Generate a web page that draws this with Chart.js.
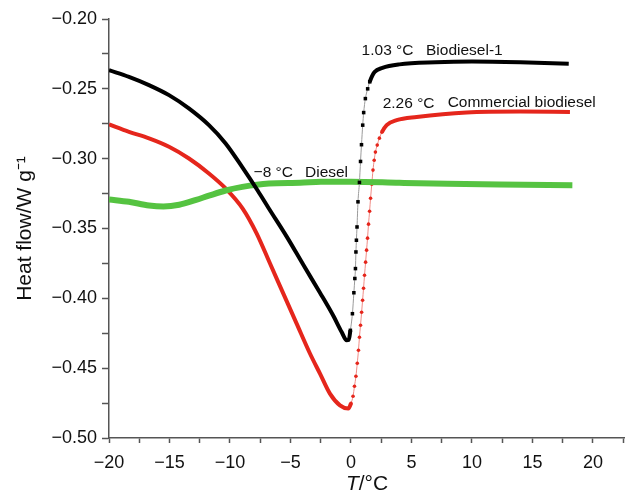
<!DOCTYPE html>
<html>
<head>
<meta charset="utf-8">
<script src="https://cdn.jsdelivr.net/npm/chart.js@4.4.1/dist/chart.umd.min.js"></script>
<style>
  html, body { margin: 0; padding: 0; background: #fff; }
  #wrap { width: 625px; height: 494px; }
</style>
</head>
<body>
<div id="wrap"><canvas id="dscChart"></canvas></div>
<script>
// DSC cooling curves
const blackT  = [-20, -18.35, -16.7, -15.04, -13.4, -11.74, -10.36, -9.0, -7.7, -6.8, -5.3, -3.94, -2.56, -1.46, -0.77, -0.36, -0.18,
                 -0.05, 0.12, 0.24, 0.32, 0.37, 0.41, 0.45, 0.5, 0.58, 0.7, 0.79, 0.87, 0.97, 1.05, 1.19, 1.38, 1.55,
                 1.95, 2.6, 4, 7, 10, 14, 18];
const blackHF = [-0.2366, -0.2414, -0.2473, -0.2545, -0.2640, -0.2760, -0.2891, -0.3059, -0.3230, -0.3355, -0.3560, -0.3760, -0.3960, -0.4125, -0.4241, -0.4300, -0.4298,
                 -0.4229, -0.4110, -0.3960, -0.3858, -0.3787, -0.3668, -0.3584, -0.3489, -0.3309, -0.317, -0.302, -0.290, -0.276, -0.267, -0.257, -0.250, -0.245,
                 -0.238, -0.235, -0.2325, -0.231, -0.2305, -0.231, -0.232];

const redT  = [-20, -18.35, -16.69, -15.04, -13.39, -11.74, -10.36, -8.95, -7.79, -6.69, -5.59, -4.49, -3.39, -2.56, -1.74, -0.91, -0.22,
               0.0, 0.17, 0.29, 0.41, 0.52, 0.62, 0.70, 0.79, 0.88, 0.96, 1.04, 1.12, 1.21, 1.29, 1.37, 1.45, 1.54, 1.62,
               1.72, 1.82, 1.92, 2.02, 2.17, 2.35, 2.56, 2.95, 3.78, 5.43, 9.56, 14, 18.1];
const redHF = [-0.2755, -0.2808, -0.2855, -0.2915, -0.2999, -0.3106, -0.3213, -0.3357, -0.3536, -0.3751, -0.3966, -0.4181, -0.4395, -0.4539, -0.4682, -0.4766, -0.4789,
               -0.4752, -0.4701, -0.4630, -0.4558, -0.4465, -0.4372, -0.4279, -0.4193, -0.4100, -0.4014, -0.3928, -0.3835, -0.3741, -0.3655, -0.3569, -0.3469, -0.3376, -0.3283,
               -0.3183, -0.3082, -0.3011, -0.2953, -0.2903, -0.2853, -0.2810, -0.2760, -0.2724, -0.2701, -0.2669, -0.2663, -0.2665];

const greenT  = [-20, -18.35, -16.69, -15.5, -14.2, -12.8, -11.74, -10.36, -8.98, -6.78, -4.2, -2.5, 0, 4, 8, 12.3, 18.3];
const greenHF = [-0.3292, -0.3309, -0.3335, -0.3342, -0.3330, -0.3295, -0.3265, -0.3228, -0.3202, -0.3178, -0.3173, -0.3166, -0.3165, -0.3173, -0.318, -0.3185, -0.319];

const xTicks = [-20, -15, -10, -5, 0, 5, 10, 15, 20];
const yTicks = [-0.50, -0.45, -0.40, -0.35, -0.30, -0.25, -0.20];

const notes = [
  { text: '1.03 \u00b0C', x: 0.88, y: -0.2226 },
  { text: 'Biodiesel-1', x: 6.2, y: -0.2226 },
  { text: '2.26 \u00b0C', x: 2.62, y: -0.2605 },
  { text: 'Commercial biodiesel', x: 7.99, y: -0.2597 },
  { text: '\u22128 \u00b0C', x: -8.05, y: -0.310 },
  { text: 'Diesel', x: -3.8, y: -0.310 }
];

const FONT = "'Liberation Sans', Arial, Helvetica, sans-serif";
const pts = (xs, ys) => xs.map((x, i) => ({ x: x, y: ys[i] }));
const minus = s => s.replace('-', '\u2212');

// the steep melting rise is drawn as separate markers on a thin line
function riseDataset(label, xs, ys, lo, hi, color, thinColor, style, r) {
  const inRise = x => x >= lo && x <= hi;
  const thin = ctx => inRise(ctx.p0.parsed.x) && inRise(ctx.p1.parsed.x);
  return {
    label: label,
    data: pts(xs, ys),
    borderColor: color,
    borderWidth: 4,
    cubicInterpolationMode: 'monotone',
    pointStyle: style,
    pointRadius: ctx => inRise(ctx.raw.x) ? r : 0,
    pointHoverRadius: 0,
    pointBackgroundColor: color,
    pointBorderWidth: 0,
    segment: {
      borderWidth: ctx => thin(ctx) ? 1 : 4,
      borderColor: ctx => thin(ctx) ? thinColor : color
    }
  };
}

const notesPlugin = {
  id: 'notes',
  afterDatasetsDraw(chart) {
    const c = chart.ctx, xs = chart.scales.x, ys = chart.scales.y;
    c.save();
    c.fillStyle = '#111';
    c.font = '15.5px ' + FONT;
    c.textBaseline = 'middle';
    c.textAlign = 'left';
    notes.forEach(n => c.fillText(n.text, xs.getPixelForValue(n.x), ys.getPixelForValue(n.y)));
    // x axis title with italic T
    const cx = (chart.chartArea.left + chart.chartArea.right) / 2;
    c.font = 'italic 21px ' + FONT;
    const w1 = c.measureText('T').width;
    c.font = '21px ' + FONT;
    const w2 = c.measureText('/\u00b0C').width;
    const x0 = cx - (w1 + w2) / 2;
    c.font = 'italic 21px ' + FONT;
    c.fillText('T', x0, 484);
    c.font = '21px ' + FONT;
    c.fillText('/\u00b0C', x0 + w1, 484);
    c.restore();
  }
};

const ctx = document.getElementById('dscChart').getContext('2d');

const dscChart = new Chart(ctx, {
  type: 'line',
  data: {
    datasets: [
      riseDataset('Biodiesel-1', blackT, blackHF, -0.1, 1.6, '#000000', '#9a9a9a', 'rect', 2.5),
      {
        label: 'Diesel',
        data: pts(greenT, greenHF),
        borderColor: '#55c341',
        borderWidth: 6,
        cubicInterpolationMode: 'monotone',
        pointRadius: 0,
        pointHoverRadius: 0
      },
      riseDataset('Commercial biodiesel', redT, redHF, -0.1, 2.6, '#e5261c', '#f08a84', 'circle', 1.8)
    ]
  },
  options: {
    responsive: true,
    maintainAspectRatio: false,
    animation: false,
    layout: { padding: { top: 19, right: 0, left: 0, bottom: 0 } },
    plugins: {
      legend: { display: false },
      tooltip: { enabled: false }
    },
    scales: {
      x: {
        type: 'linear',
        min: -20,
        max: 22.65,
        afterFit: s => { s.height = 56; s.paddingLeft = 0; s.paddingRight = 0; },
        border: { display: true, color: '#555', width: 1.5 },
        grid: { drawOnChartArea: false, drawTicks: true, tickLength: 5, tickColor: '#555', tickWidth: 1.5 },
        ticks: {
          stepSize: 2.5,
          includeBounds: false,
          autoSkip: false,
          maxRotation: 0,
          color: '#111',
          padding: 9,
          font: { family: FONT, size: 18 },
          callback: v => xTicks.includes(v) ? minus(String(v)) : ''
        }
      },
      y: {
        type: 'linear',
        min: -0.50,
        max: -0.20,
        afterFit: s => { s.width = 109; },
        border: { display: true, color: '#555', width: 1.5 },
        grid: { drawOnChartArea: false, drawTicks: true, tickLength: 7, tickColor: '#555', tickWidth: 1.5 },
        ticks: {
          stepSize: 0.025,
          autoSkip: false,
          color: '#111',
          padding: 5,
          font: { family: FONT, size: 18 },
          callback: v => yTicks.some(t => Math.abs(t - v) < 1e-6) ? minus(v.toFixed(2)) : ''
        },
        title: {
          display: true,
          text: 'Heat flow/W g\u207b\u00b9',
          color: '#111',
          font: { family: FONT, size: 21 },
          padding: { top: 13, bottom: 0 }
        }
      }
    }
  },
  plugins: [notesPlugin]
});
</script>
</body>
</html>
